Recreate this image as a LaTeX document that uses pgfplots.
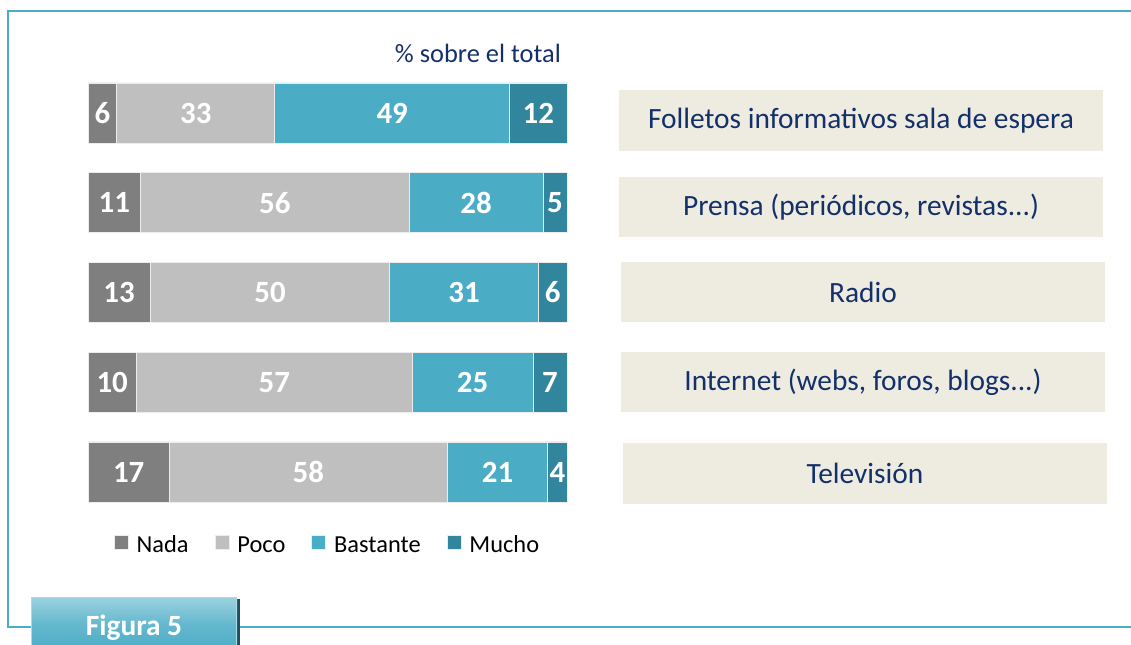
\documentclass[border=0pt]{standalone}
\usepackage{fontspec}
\setmainfont{Carlito}
\usepackage{pgfplots}
\pgfplotsset{compat=1.18}
\usepackage{pgfplotstable}
\definecolor{nada}{HTML}{7F7F7F}
\definecolor{poco}{HTML}{BFBFBF}
\definecolor{bast}{HTML}{4BACC6}
\definecolor{mucho}{HTML}{31859C}
\definecolor{navy}{HTML}{14306A}
\definecolor{beige}{HTML}{EEECE1}
\definecolor{framec}{HTML}{4BACC6}

% bar lengths (100% stacked; row 4 sums to 99 and is normalised)
\pgfplotstableread{
row nada poco bast mucho
1 6 33 49 12
2 11 56 28 5
3 13 50 31 6
4 10.10 57.58 25.25 7.07
5 17 58 21 4
}\bars

% label positions (segment midpoints) and shown values
\pgfplotstableread{
x row lab
3 1 6
22.5 1 33
63.5 1 49
94 1 12
5.5 2 11
39 2 56
81 2 28
97.5 2 5
6.5 3 13
38 3 50
78.5 3 31
97 3 6
5.05 4 10
38.89 4 57
80.3 4 25
96.46 4 7
8.5 5 17
46 5 58
85.5 5 21
98 5 4
}\labs

\begin{document}
\begin{tikzpicture}[x=1bp,y=1bp]
\useasboundingbox (0,0) rectangle (1131,-645);
% frame
\draw[framec, line width=2bp] (1140,-11) -- (8,-11) -- (8,-627) -- (1140,-627);

\begin{axis}[
  at={(88bp,-68.1bp)}, anchor=north west,
  scale only axis, width=479bp, height=448.75bp,
  xmin=0, xmax=100, ymin=0.5, ymax=5.5, y dir=reverse,
  xbar stacked, bar width=60bp,
  hide axis,
  legend style={at={(0.5,0)}, anchor=north, yshift=-16bp, draw=none, fill=none,
    legend columns=4, font=\fontsize{24.5}{26}\selectfont,
    nodes={text height=15bp, text depth=4bp},
    /tikz/every even column/.append style={column sep=24bp},
    /tikz/every odd column/.append style={column sep=6bp}},
  legend image code/.code={\fill[#1] (0bp,-3bp) rectangle (14bp,11bp);},
]
\addplot[fill=nada, draw=white!85!gray, line width=0.8bp] table[x=nada, y=row] \bars;
\addplot[fill=poco, draw=white!85!gray, line width=0.8bp] table[x=poco, y=row] \bars;
\addplot[fill=bast, draw=white!85!gray, line width=0.8bp] table[x=bast, y=row] \bars;
\addplot[fill=mucho, draw=white!85!gray, line width=0.8bp] table[x=mucho, y=row] \bars;
\legend{Nada, Poco, Bastante, Mucho}
\end{axis}

\begin{axis}[
  at={(88bp,-68.1bp)}, anchor=north west,
  scale only axis, width=479bp, height=448.75bp,
  xmin=0, xmax=100, ymin=0.5, ymax=5.5, y dir=reverse,
  hide axis, clip=false,
]
\addplot[draw=none, mark=none, nodes near coords, point meta=explicit symbolic,
  every node near coord/.style={anchor=center, text=white, inner sep=0pt,
    font=\bfseries\fontsize{31}{33}\selectfont}]
  table[x=x, y=row, meta=lab] \labs;
\end{axis}

% title
\node[anchor=east, text=navy, inner sep=0pt, font=\fontsize{26.5}{28}\selectfont] at (561,-53) {\% sobre el total};

% category boxes
\tikzset{cat/.style={fill=beige, text=navy, minimum width=484bp, minimum height=60.5bp, inner sep=0pt, font=\fontsize{29.5}{31}\selectfont}}
\node[cat] at (861,-120.5) {Folletos informativos sala de espera};
\node[cat] at (861,-207) {Prensa (periódicos, revistas...)};
\node[cat] at (863,-292) {Radio};
\node[cat] at (863,-382) {Internet (webs, foros, blogs...)};
\node[cat] at (865,-473.5) {Televisión};

% Figura tab
\fill[mucho!60!black] (237,-599) rectangle (240,-650);
\shade[top color=bast!55!white, bottom color=bast, middle color=bast!85!white] (31,-597) rectangle (237,-650);
\draw[bast!45!white, line width=1.5bp] (31.5,-650) -- (31.5,-597.5) -- (236.5,-597.5) -- (236.5,-650);
\node[text=white, font=\bfseries\fontsize{29.5}{31}\selectfont] at (134,-628) {Figura 5};
\end{tikzpicture}
\end{document}
